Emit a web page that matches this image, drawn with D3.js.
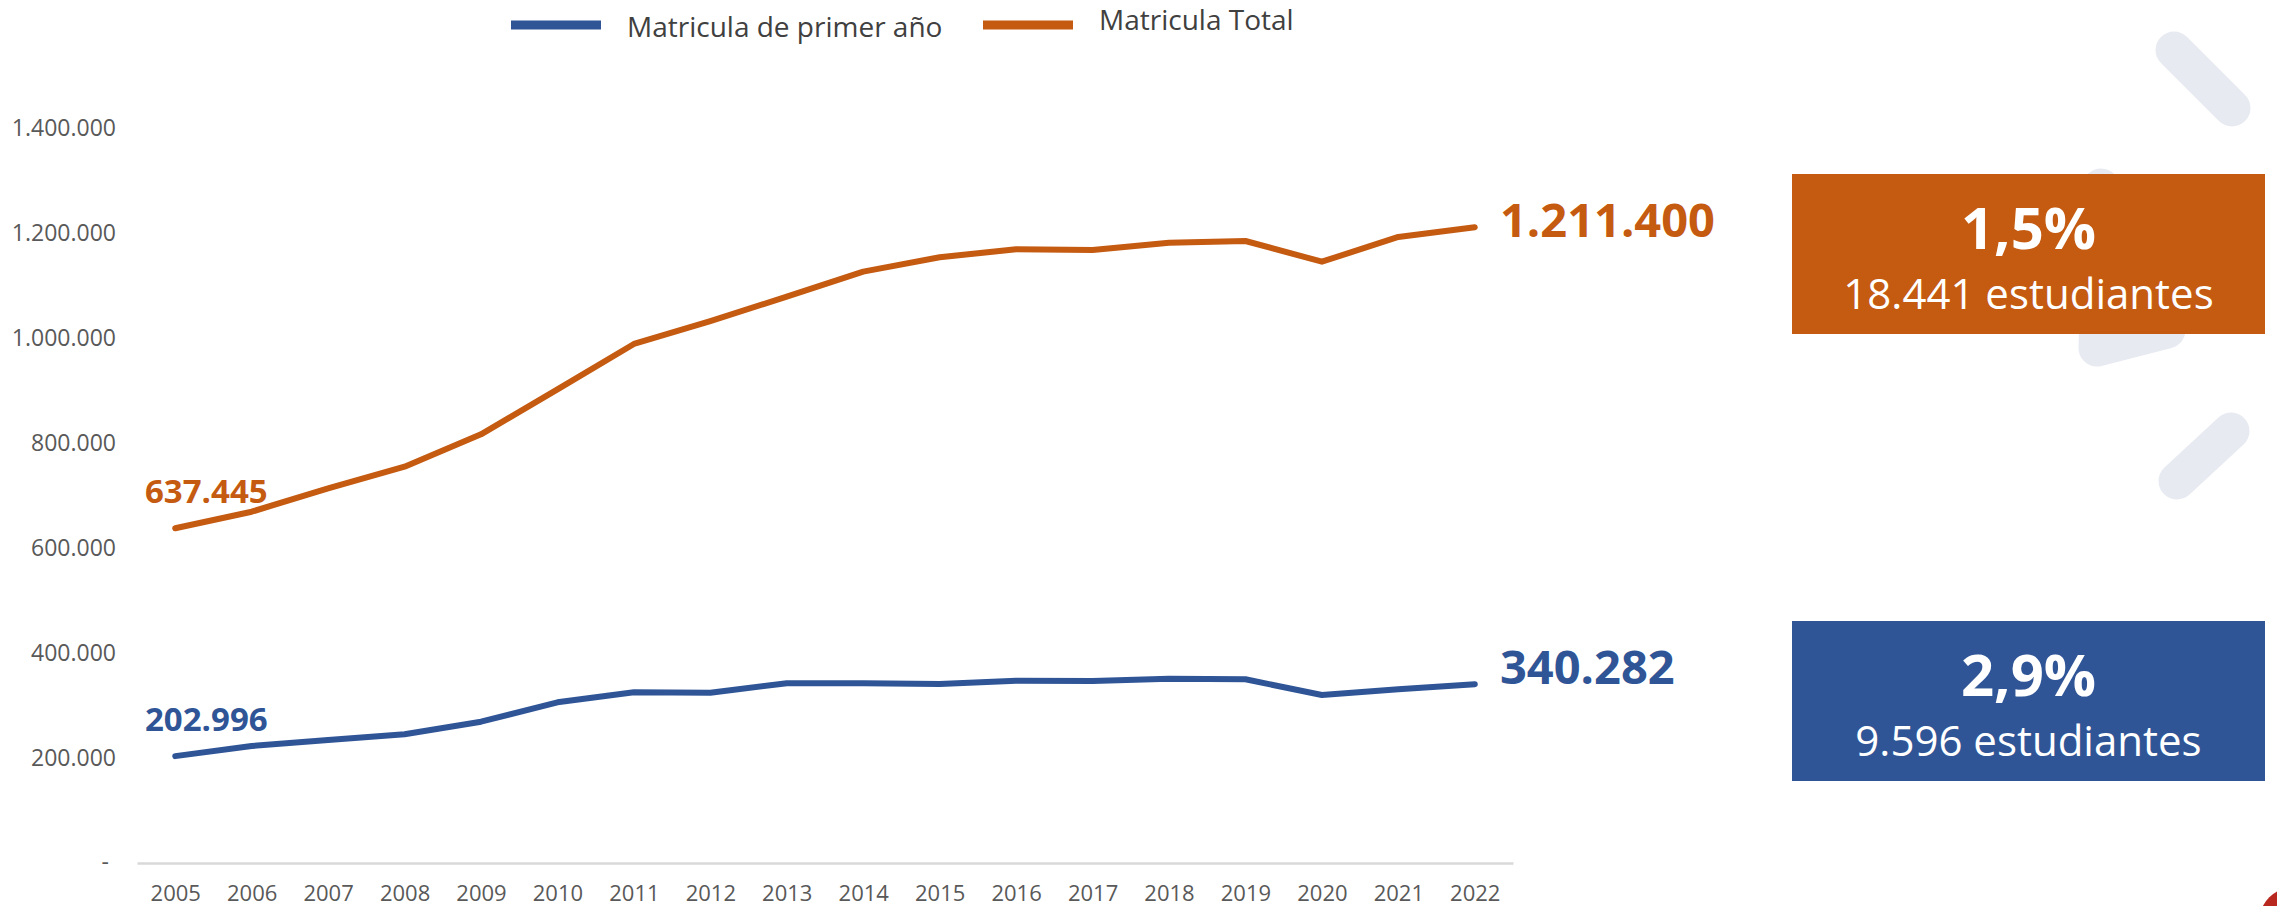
<!DOCTYPE html>
<html lang="es">
<head>
<meta charset="UTF-8">
<title>Matricula</title>
<script src="https://cdnjs.cloudflare.com/ajax/libs/d3/7.8.5/d3.min.js"></script>
<style>
html, body { margin: 0; padding: 0; background: #ffffff; }
svg { display: block; font-family: 'Open Sans', 'Noto Sans', sans-serif; }
.tick text { fill: #595959; font-family: 'Open Sans', 'Noto Sans', sans-serif; }
</style>
</head>
<body>
<svg id="canvas"></svg>
<script>
// data
let years = [2005, 2006, 2007, 2008, 2009, 2010, 2011, 2012, 2013, 2014, 2015, 2016, 2017, 2018, 2019, 2020, 2021, 2022]
let primerAnio = [202996, 222300, 233800, 244600, 268700, 305600, 324700, 324000, 341900, 341900, 340600, 346900, 346300, 350700, 349500, 319600, 330686, 340282]
let total = [637445, 669100, 713700, 754900, 816700, 902500, 988900, 1032700, 1079100, 1126800, 1154200, 1169500, 1168100, 1182100, 1185300, 1145800, 1192959, 1211400]
let yTicks = [0, 200000, 400000, 600000, 800000, 1000000, 1200000, 1400000]
let seriesNames = ['Matricula de primer año', 'Matricula Total']
let growthPct = ['2,9%', '1,5%']
let growthAbs = ['9.596 estudiantes', '18.441 estudiantes']

let width = 2277
let height = 906
let colors = ['#2F5597', '#C55A11']

let svg = d3.select('#canvas').attr('width', width).attr('height', height)

let locale = d3.formatLocale({decimal: ',', thousands: '.', grouping: [3], currency: ['$', '']})
let fmt = locale.format(',d')

let xScale = d3.scalePoint().domain(years).range([137, 1513]).padding(0.5)
let yScale = d3.scaleLinear().domain([0, 1400000]).range([862.6, 128.4])

let series = [
    {name: seriesNames[0], values: primerAnio, color: colors[0], pct: growthPct[0], abs: growthAbs[0], lastDy: 0},
    {name: seriesNames[1], values: total, color: colors[1], pct: growthPct[1], abs: growthAbs[1], lastDy: 10}
]

// background decoration (slide pattern)
let deco = svg.append('g')
    .attr('fill', 'none')
    .attr('stroke', '#E7EAF1')
    .attr('stroke-width', 37)
    .attr('stroke-linecap', 'round')
    .attr('stroke-linejoin', 'round')
deco.append('path').attr('d', 'M2174,50 L2232,108')
deco.append('path').attr('d', 'M2101,187 L2097,348 L2167,330')
deco.append('path').attr('d', 'M2296,245 L2296,290')
deco.append('path').attr('d', 'M2177,481 L2231,431')
svg.append('circle').attr('cx', 2294).attr('cy', 922).attr('r', 35).attr('fill', '#B8281E')

// axes
let yAxis = d3.axisLeft(yScale)
    .tickValues(yTicks)
    .tickSize(0)
    .tickPadding(21)
    .tickFormat(d => d === 0 ? '-' : fmt(d))

let yG = svg.append('g')
    .attr('transform', 'translate(137,0)')
    .call(yAxis)
    .attr('font-family', null)
yG.select('.domain').remove()
yG.selectAll('text').style('font-size', '23px')
yG.selectAll('.tick').filter(d => d === 0).select('text').attr('x', -28)

let xAxis = d3.axisBottom(xScale).tickSize(0).tickSizeOuter(0).tickPadding(22)
let xG = svg.append('g')
    .attr('transform', 'translate(0,863)')
    .call(xAxis)
    .attr('font-family', null)
xG.select('.domain').attr('stroke', '#D9D9D9').attr('stroke-width', 2.5)
xG.selectAll('text').style('font-size', '22px')

// lines
let line = d3.line()
    .x((d, i) => xScale(years[i]))
    .y(d => yScale(d))

svg.selectAll('.serie')
    .data(series)
    .enter()
    .append('path')
    .attr('class', 'serie')
    .attr('d', d => line(d.values))
    .attr('fill', 'none')
    .attr('stroke', d => d.color)
    .attr('stroke-width', 6)
    .attr('stroke-linecap', 'round')
    .attr('stroke-linejoin', 'round')

// first value labels
svg.selectAll('.first-label')
    .data(series)
    .enter()
    .append('text')
    .attr('class', 'first-label')
    .attr('x', 145)
    .attr('y', d => yScale(d.values[0]) - 25)
    .attr('fill', d => d.color)
    .style('font-size', '33px')
    .style('font-weight', 'bold')
    .text(d => fmt(d.values[0]))

// last value labels
let last = years.length - 1
svg.selectAll('.last-label')
    .data(series)
    .enter()
    .append('text')
    .attr('class', 'last-label')
    .attr('x', 1500)
    .attr('y', d => yScale(d.values[last]) + d.lastDy)
    .attr('fill', d => d.color)
    .style('font-size', '47px')
    .style('font-weight', 'bold')
    .text(d => fmt(d.values[last]))

// legend
let legendX = [511, 983]
let legendTextY = [37, 30]
let legend = svg.selectAll('.legend')
    .data(series)
    .enter()
    .append('g')
    .attr('class', 'legend')
legend.append('line')
    .attr('x1', (d, i) => legendX[i])
    .attr('x2', (d, i) => legendX[i] + 90)
    .attr('y1', 25)
    .attr('y2', 25)
    .attr('stroke', d => d.color)
    .attr('stroke-width', 9)
legend.append('text')
    .attr('x', (d, i) => legendX[i] + 116)
    .attr('y', (d, i) => legendTextY[i])
    .attr('fill', '#404040')
    .style('font-size', '28px')
    .text(d => d.name)

// summary boxes
let boxTop = [621, 174]
let boxes = svg.selectAll('.box')
    .data(series)
    .enter()
    .append('g')
    .attr('class', 'box')
    .attr('transform', (d, i) => 'translate(1792,' + boxTop[i] + ')')
boxes.append('rect')
    .attr('width', 473)
    .attr('height', 160)
    .attr('fill', d => d.color)
boxes.append('text')
    .attr('x', 236.5)
    .attr('y', 75)
    .attr('text-anchor', 'middle')
    .attr('fill', '#ffffff')
    .style('font-size', '58px')
    .style('font-weight', 'bold')
    .text(d => d.pct)
boxes.append('text')
    .attr('x', 236.5)
    .attr('y', 135)
    .attr('text-anchor', 'middle')
    .attr('fill', '#ffffff')
    .style('font-size', '42px')
    .text(d => d.abs)
</script>
</body>
</html>
